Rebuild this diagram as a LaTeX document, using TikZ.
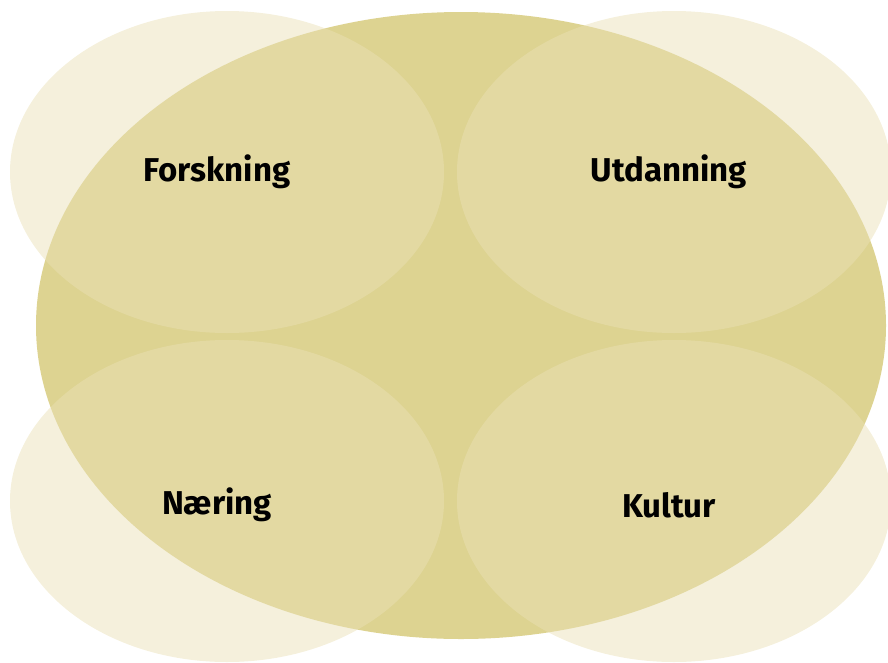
\documentclass[tikz,border=0pt]{standalone}
\usepackage{fontspec}
\setmainfont{Fira Sans}
\usetikzlibrary{shapes.geometric}
\usetikzlibrary{positioning}
\definecolor{oliven}{RGB}{221,211,145}
\definecolor{lysoliven}{RGB}{234,224,182}
\tikzset{every node/.style={inner sep=0pt}}
\tikzset{felt/.style={ellipse,fill=lysoliven,fill opacity=0.48,minimum width=434pt,minimum height=322pt}}
\tikzset{etikett/.style={font=\bfseries\fontsize{33}{36}\selectfont,text=black}}

\begin{document}
\begin{tikzpicture}[x=1pt,y=-1pt]
		\useasboundingbox (0,0) rectangle (888,662);
		\node[ellipse,fill=oliven,minimum width=850pt,minimum height=627pt] (helhet) at (461,325.5) {};
		\node[felt] (F) at (227,172) {};
		\node[felt] (U) at (674,172) {};
		\node[felt] (N) at (227,501) {};
		\node[felt] (K) at (674,501) {};
		\node[etikett] (Ft) at (217,172) {Forskning};
		\node[etikett] (Ut) at (669,172) {Utdanning};
		\node[etikett] (Nt) at (217,505) {Næring};
		\node[etikett] (Kt) at (669,505) {Kultur};
	\end{tikzpicture}
\end{document}
